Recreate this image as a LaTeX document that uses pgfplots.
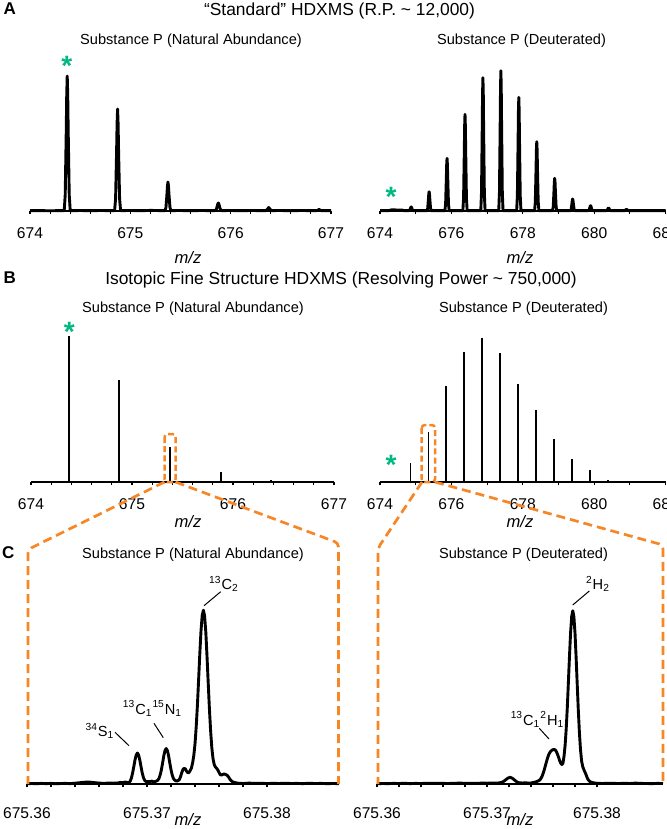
\documentclass[border=0pt]{standalone}
\usepackage{fontspec}
\setmainfont{Liberation Sans}
\usepackage{pgfplots}
\pgfplotsset{compat=1.18}
\definecolor{orng}{RGB}{246,134,38}
\definecolor{grn}{RGB}{0,184,130}
\pgfplotsset{
  spec/.style={
    scale only axis, anchor=south west,
    axis x line=bottom, axis y line=none,
    x axis line style={-, line width=0.75pt},
    ymin=0, ytick=\empty, clip=false,
    tick align=outside,
    major tick length=1.7pt, minor tick length=1.7pt,
    every tick/.style={black, line width=0.55pt},
    xticklabel style={font=\fontsize{7.8}{9}\selectfont, yshift=-3pt},
    xlabel={\textit{m/z}},
    xlabel style={font=\fontsize{8.3}{10}\selectfont, anchor=center},
  },
  trace/.style={black, line width=1.45pt, line join=round, mark=none},
  stick/.style={black, ycomb, line width=0.85pt, mark=none},
}
\newcommand{\gstar}{\node[text=grn, font=\bfseries\fontsize{14}{14}\selectfont, anchor=base, yshift=-8pt, inner sep=0pt]}
\begin{document}
\begin{tikzpicture}
% ---------------- A left ----------------
\begin{axis}[spec, at={(15pt,-105.5pt)}, width=150.5pt, height=85pt,
  xmin=0, xmax=3, ymax=170,
  xtick={0,1,2,3}, xticklabels={674,675,676,677}, minor x tick num=4,
  xlabel style={at={(axis description cs:0.525,0)}, yshift=-23.5pt}]
\addplot[trace] table {
0.000 0.3
0.100 0.4
0.200 0.2
0.300 0.4
0.341 0.3
0.351 16.0
0.361 78.0
0.366 116.0
0.371 135
0.376 116.0
0.381 78.0
0.391 16.0
0.401 0.3
0.500 0.5
0.600 0.3
0.700 0.5
0.800 0.4
0.843 0.3
0.853 12.1
0.863 59.0
0.868 87.6
0.873 102
0.878 87.6
0.883 59.0
0.893 12.1
0.903 0.4
1.000 0.5
1.100 0.3
1.200 0.6
1.300 0.4
1.345 0.4
1.355 3.5
1.365 16.8
1.370 24.9
1.375 29
1.380 24.9
1.385 16.8
1.395 3.5
1.405 0.4
1.500 0.5
1.600 0.3
1.700 0.5
1.800 0.4
1.842 0.4
1.857 1.6
1.867 5.2
1.872 7.2
1.877 8
1.882 7.2
1.887 5.2
1.897 1.6
1.912 0.4
2.000 0.5
2.100 0.3
2.200 0.5
2.300 0.4
2.352 0.4
2.364 1.5
2.379 3.5
2.394 1.5
2.406 0.4
2.500 0.5
2.600 0.3
2.700 0.5
2.800 0.4
2.860 0.4
2.872 1.0
2.881 1.6
2.890 1.0
2.902 0.4
3.000 0.4
};
\gstar at (axis cs:0.366,151.7) {*};
\end{axis}
% ---------------- A right ----------------
\begin{axis}[spec, at={(190pt,-105.5pt)}, width=142.8pt, height=85pt,
  xmin=0, xmax=8, ymax=170,
  xtick={0,2,4,6,8}, xticklabels={674,676,678,680,682}, minor x tick num=1,
  xlabel style={at={(axis description cs:0.49,0)}, yshift=-23.5pt}]
\addplot[trace] table {
0.00 0.4
0.25 0.4
0.30 1.0
0.37 1.3
0.45 1.0
0.62 1.0
0.66 0.4
0.813 0.4
0.833 0.9
0.853 2.6
0.863 3.6
0.873 4.1
0.883 3.6
0.893 2.6
0.913 0.9
0.933 0.4
1.316 0.4
1.336 2.6
1.356 11.7
1.366 17.0
1.376 19.3
1.386 17.0
1.396 11.7
1.416 2.6
1.436 0.4
1.818 0.4
1.838 7.1
1.858 32.0
1.868 46.5
1.878 52.7
1.888 46.5
1.898 32.0
1.918 7.1
1.938 0.4
2.321 0.4
2.341 13.1
2.361 58.7
2.371 85.3
2.381 96.7
2.391 85.3
2.401 58.7
2.421 13.1
2.441 0.4
2.823 0.4
2.843 18.0
2.863 80.9
2.873 117.6
2.883 133.3
2.893 117.6
2.903 80.9
2.923 18.0
2.943 0.4
3.326 0.4
3.346 18.9
3.366 85.2
3.376 123.7
3.386 140.3
3.396 123.7
3.406 85.2
3.426 18.9
3.446 0.4
3.828 0.4
3.848 15.3
3.868 69.0
3.878 100.3
3.888 113.7
3.898 100.3
3.908 69.0
3.928 15.3
3.948 0.4
4.331 0.4
4.351 9.4
4.371 42.1
4.381 61.1
4.391 69.3
4.401 61.1
4.411 42.1
4.431 9.4
4.451 0.4
4.833 0.4
4.853 4.4
4.873 19.8
4.883 28.8
4.893 32.7
4.903 28.8
4.913 19.8
4.933 4.4
4.953 0.4
5.336 0.4
5.356 1.9
5.376 7.4
5.386 10.6
5.396 12.0
5.406 10.6
5.416 7.4
5.436 1.9
5.456 0.4
5.838 0.4
5.858 1.1
5.878 3.4
5.888 4.8
5.898 5.3
5.908 4.8
5.918 3.4
5.938 1.1
5.958 0.4
6.341 0.4
6.361 0.8
6.381 2.0
6.391 2.8
6.401 3.1
6.411 2.8
6.421 2.0
6.441 0.8
6.461 0.4
6.853 0.4
6.873 1.0
6.903 1.6
6.933 1.0
6.953 0.4
7.400 0.4
8.000 0.4
};
\gstar at (axis cs:0.31,21) {*};
\end{axis}
% ---------------- B left ----------------
\begin{axis}[spec, at={(15.5pt,-241pt)}, width=151.5pt, height=85pt,
  xmin=0, xmax=3, ymax=170,
  xtick={0,1,2,3}, xticklabels={674,675,676,677}, minor x tick num=4,
  xlabel style={at={(axis description cs:0.518,0)}, yshift=-20pt}]
\addplot[stick] coordinates {(0.376,146) (0.874,102) (1.376,35.3) (1.878,10.3) (2.379,2)};
\gstar at (axis cs:0.379,157) {*};
\end{axis}
% ---------------- B right ----------------
\begin{axis}[spec, at={(190pt,-241pt)}, width=142.8pt, height=85pt,
  xmin=0, xmax=8, ymax=170,
  xtick={0,2,4,6,8}, xticklabels={674,676,678,680,682}, minor x tick num=1,
  xlabel style={at={(axis description cs:0.49,0)}, yshift=-20pt}]
\addplot[stick] coordinates {(0.36,1) (0.853,19) (1.356,50) (1.858,96) (2.361,130) (2.863,144) (3.366,129) (3.868,98) (4.371,72) (4.873,43) (5.376,23) (5.878,12) (6.381,2.5)};
\gstar at (axis cs:0.31,23.7) {*};
\end{axis}
% ---------------- C left ----------------
\begin{axis}[spec, at={(13.5pt,-392pt)}, width=156pt, height=100pt,
  xmin=0, xmax=260, ymax=200,
  xtick={0,100,200}, xticklabels={675.36,675.37,675.38}, minor x tick num=4,
  xticklabel style={yshift=-3.7pt},
  xlabel style={at={(axis description cs:0.516,0)}, yshift=-18pt}]
\addplot[trace] table {
0 0.3
4 0.5
8 0.3
12 0.6
16 0.4
20 0.6
24 0.3
28 0.5
32 0.6
36 0.4
40 0.8
44 1.3
48 1.8
52 1.9
56 1.4
60 0.9
64 0.7
68 0.9
72 0.8
76 1.1
78 1.6
80 1.4
82 2.0
84 1.3
85 1.5
86 2.8
87 6.0
88 11.0
89 17.3
90 24.0
91 29.0
92 31.0
93 29.0
94 24.0
95 17.5
96 11.2
97 6.5
98 3.8
99 2.6
100 2.3
101 2.5
102 2.2
103 2.6
104 2.9
105 2.4
106 2.2
107 2.6
108 3.0
109 3.8
110 5.6
111 9.2
112 14.2
113 21.0
114 28.2
115 33.5
116 35.5
117 33.5
118 28.2
119 21.0
120 14.4
121 9.0
122 5.6
123 4.0
124 3.2
125 3.0
126 3.5
127 4.5
128 7.5
129 11.5
130 14.5
131 15.7
132 15.0
133 12.8
134 11.2
135 11.5
136 13.5
137 16.0
138 21.0
139 28.5
140 40.0
141 57.0
142 78.5
143 104.0
144 130.0
145 153.0
146 168.5
147 173.8
148 168.0
149 152.0
150 128.0
151 101.5
152 75.5
153 53.5
154 36.5
155 25.5
156 19.5
157 17.0
158 15.8
159 14.0
160 11.5
161 9.5
162 8.8
163 9.5
164 10.0
165 9.8
166 9.2
167 8.5
168 7.0
169 5.0
170 3.5
171 2.5
172 1.8
174 1.2
176 0.8
180 0.5
185 0.9
190 0.6
195 0.8
200 0.4
205 0.7
210 0.5
215 0.8
220 0.5
225 0.6
230 0.4
235 0.7
240 0.5
245 0.6
250 0.4
255 0.5
260 0.4
};
\end{axis}
% ---------------- C right ----------------
\begin{axis}[spec, at={(188.5pt,-392pt)}, width=143pt, height=100pt,
  xmin=0, xmax=260, ymax=200,
  xtick={0,100,200}, xticklabels={675.36,675.37,675.38}, minor x tick num=4,
  xticklabel style={yshift=-3.7pt},
  xlabel style={at={(axis description cs:0.5,0)}, yshift=-18pt}]
\addplot[trace] table {
0 0.3
5 0.5
10 0.4
15 0.6
20 0.5
25 0.7
30 0.4
35 0.6
40 0.5
45 0.7
50 0.6
55 0.8
60 0.6
65 0.5
70 0.7
75 0.9
80 0.7
85 0.8
90 0.6
95 0.9
100 0.8
105 0.9
110 1.0
113 1.5
115 2.5
117 4.2
119 5.9
121 6.7
123 5.8
125 4.0
127 2.2
129 1.3
132 1.0
135 1.2
138 0.9
140 1.0
142 1.5
144 2.0
146 2.8
148 4.0
149 5.5
150 7.5
151 10.5
152 14.0
153 18.0
154 22.0
155 25.8
156 29.0
157 31.3
158 32.8
159 33.8
160 34.3
161 34.5
162 34.2
163 32.5
164 30.0
165 27.0
166 23.5
167 21.0
168 19.5
169 20.5
170 27.5
171 38.5
172 55.0
173 76.5
174 102.0
175 128.2
176 151.7
177 167.6
178 173.3
179 167.3
180 151.0
181 127.0
182 100.2
183 74.0
184 51.5
185 34.5
186 23.0
187 17.5
188 14.5
189 12.0
190 9.5
191 6.5
192 4.2
193 3.0
194 2.2
196 1.4
198 1.0
200 0.7
205 0.5
210 0.8
215 0.6
220 0.5
225 0.7
230 0.5
235 0.9
240 0.6
245 0.5
250 0.4
255 0.6
260 0.5
};
\end{axis}
% ---------------- annotations (pixel coordinates) ----------------
\begin{scope}[x=0.5pt,y=-0.5pt]
\node[anchor=base west, font=\bfseries\fontsize{8.5}{10}\selectfont, inner sep=0pt] at (3.3,15) {A};
\node[anchor=base, font=\fontsize{8.7}{10}\selectfont, inner sep=0pt] at (339.5,16) {“Standard” HDXMS (R.P. \textasciitilde{} 12,000)};
\node[anchor=base, font=\fontsize{7.3}{9}\selectfont, inner sep=0pt] at (191,44.3) {Substance P (Natural Abundance)};
\node[anchor=base, font=\fontsize{7.3}{9}\selectfont, inner sep=0pt] at (521.5,44.3) {Substance P (Deuterated)};
\node[anchor=base west, font=\bfseries\fontsize{8.5}{10}\selectfont, inner sep=0pt] at (3.3,283.3) {B};
\node[anchor=base, font=\fontsize{8.7}{10}\selectfont, inner sep=0pt] at (341,284) {Isotopic Fine Structure HDXMS (Resolving Power \textasciitilde{} 750,000)};
\node[anchor=base, font=\fontsize{7.3}{9}\selectfont, inner sep=0pt] at (193,312.7) {Substance P (Natural Abundance)};
\node[anchor=base, font=\fontsize{7.3}{9}\selectfont, inner sep=0pt] at (523.5,312.7) {Substance P (Deuterated)};
\node[anchor=base west, font=\bfseries\fontsize{8.5}{10}\selectfont, inner sep=0pt] at (1.7,558.3) {C};
\node[anchor=base, font=\fontsize{7.3}{9}\selectfont, inner sep=0pt] at (193,558.3) {Substance P (Natural Abundance)};
\node[anchor=base, font=\fontsize{7.3}{9}\selectfont, inner sep=0pt] at (523.5,558.3) {Substance P (Deuterated)};
% peak labels
\node[anchor=base, font=\fontsize{7.3}{9}\selectfont, inner sep=0pt] at (224,589.3) {\textsuperscript{13}C\textsubscript{2}};
\node[anchor=base, font=\fontsize{7.3}{9}\selectfont, inner sep=0pt] at (152.5,714) {\textsuperscript{13}C\textsubscript{1}\textsuperscript{15}N\textsubscript{1}};
\node[anchor=base, font=\fontsize{7.3}{9}\selectfont, inner sep=0pt] at (100,736.7) {\textsuperscript{34}S\textsubscript{1}};
\node[anchor=base, font=\fontsize{7.3}{9}\selectfont, inner sep=0pt] at (598,589.3) {\textsuperscript{2}H\textsubscript{2}};
\node[anchor=base, font=\fontsize{7.3}{9}\selectfont, inner sep=0pt] at (537.5,725) {\textsuperscript{13}C\textsubscript{1}\textsuperscript{2}H\textsubscript{1}};
\draw[black, line width=0.5pt] (204,605.7) -- (220.7,591.7);
\draw[black, line width=0.5pt] (154,723.3) -- (163.3,737.7);
\draw[black, line width=0.5pt] (115,732.3) -- (129,745.7);
\draw[black, line width=0.5pt] (572.7,605) -- (589.3,591);
\draw[black, line width=0.5pt] (539.3,728.3) -- (549,739);
% orange zoom boxes and connectors
\draw[orng, line width=1.25pt, dash pattern=on 3pt off 1.6pt, rounded corners=1.5pt] (164.5,434) rectangle (175.5,482);
\draw[orng, line width=1.25pt, dash pattern=on 3pt off 1.6pt, rounded corners=1.5pt] (421.7,425) rectangle (435,482);
\draw[orng, line width=1.35pt, dash pattern=on 4.5pt off 2.5pt, rounded corners=2pt] (164.5,482) -- (28,549.5) -- (28,784);
\draw[orng, line width=1.35pt, dash pattern=on 4.5pt off 2.5pt, rounded corners=2pt] (175.5,482) -- (338.5,543) -- (338.5,784);
\draw[orng, line width=1.35pt, dash pattern=on 4.5pt off 2.5pt, rounded corners=2pt] (422,482) -- (378,548) -- (378,784);
\draw[orng, line width=1.35pt, dash pattern=on 4.5pt off 2.5pt, rounded corners=2pt] (435,482) -- (663,545) -- (663,784);
\end{scope}
\pgfresetboundingbox
\useasboundingbox (0pt,0pt) rectangle (333pt,-414.5pt);
\end{tikzpicture}
\end{document}
